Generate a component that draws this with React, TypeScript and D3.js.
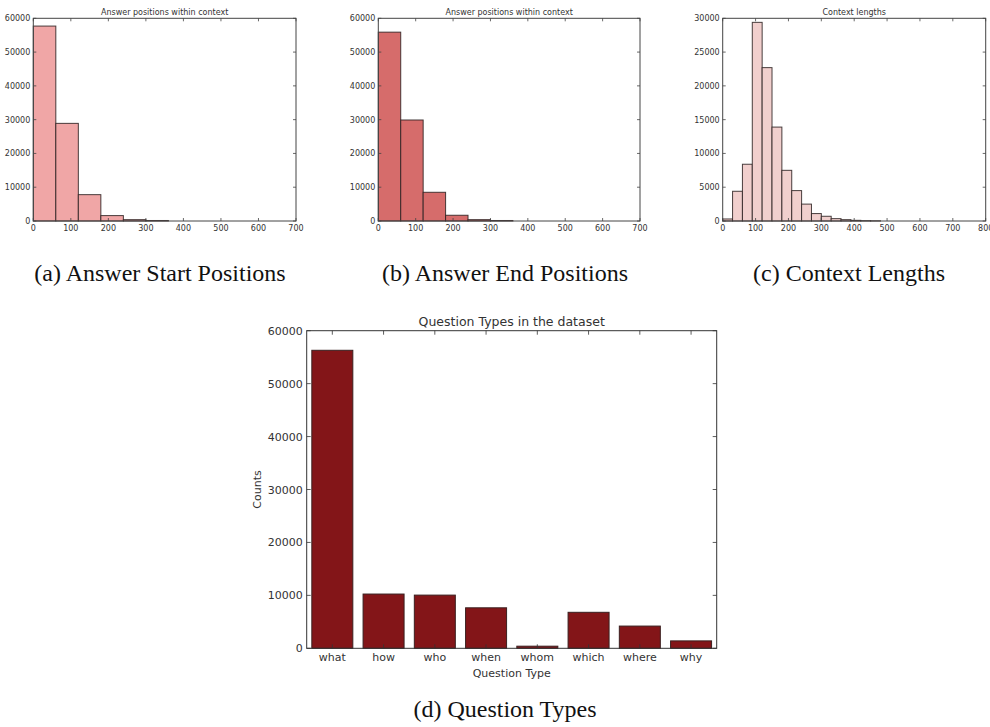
import React from "react";
import * as d3 from "d3";

// ---- Data ----
const startBinWidth = 60;
const startCounts = [57700, 28900, 7800, 1600, 400, 150];
const endBinWidth = 60;
const endCounts = [55900, 29900, 8500, 1700, 400, 150];
const contextBinWidth = 30;
const contextCounts = [300, 4400, 8400, 29400, 22700, 13900, 7500, 4500, 2500, 1100, 700, 350, 200, 100, 50, 30];

const posTicksX = [0, 100, 200, 300, 400, 500, 600, 700];
const posTicksY = [0, 10000, 20000, 30000, 40000, 50000, 60000];
const ctxTicksX = [0, 100, 200, 300, 400, 500, 600, 700, 800];
const ctxTicksY = [0, 5000, 10000, 15000, 20000, 25000, 30000];

const qTypes = ["what", "how", "who", "when", "whom", "which", "where", "why"];
const qCounts = [56300, 10250, 10050, 7650, 400, 6800, 4200, 1400];
const qTicksY = [0, 10000, 20000, 30000, 40000, 50000, 60000];

const captions = ["(a) Answer Start Positions", "(b) Answer End Positions", "(c) Context Lengths", "(d) Question Types"];

const SANS = "'DejaVu Sans', sans-serif";
const SERIF = "'Liberation Serif', 'Times New Roman', serif";

type HistProps = {
  left: number; right: number; top: number; bottom: number;
  counts: number[]; binWidth: number; xMax: number; yMax: number;
  xTicks: number[]; yTicks: number[]; title: string; fill: string;
};

function Hist(p: HistProps) {
  const x = d3.scaleLinear().domain([0, p.xMax]).range([p.left, p.right]);
  const y = d3.scaleLinear().domain([0, p.yMax]).range([p.bottom, p.top]);
  const tl = 3;
  return (
    <g>
      {p.counts.map((c, i) => (
        <rect key={i} x={x(i * p.binWidth)} y={y(c)} width={x((i + 1) * p.binWidth) - x(i * p.binWidth)}
          height={p.bottom - y(c)} fill={p.fill} stroke="#2a2020" strokeOpacity={0.85} strokeWidth={1} />
      ))}
      <rect x={p.left} y={p.top} width={p.right - p.left} height={p.bottom - p.top} fill="none" stroke="#444" strokeWidth={1} />
      {p.xTicks.map((t) => (
        <g key={"x" + t}>
          <line x1={x(t)} x2={x(t)} y1={p.bottom} y2={p.bottom - tl} stroke="#444" strokeWidth={0.8} />
          <line x1={x(t)} x2={x(t)} y1={p.top} y2={p.top + tl} stroke="#444" strokeWidth={0.8} />
          <text x={x(t)} y={p.bottom + 10} fontSize={8} textAnchor="middle" fontFamily={SANS} fill="#333">{t}</text>
        </g>
      ))}
      {p.yTicks.map((t) => (
        <g key={"y" + t}>
          <line x1={p.left} x2={p.left + tl} y1={y(t)} y2={y(t)} stroke="#444" strokeWidth={0.8} />
          <line x1={p.right} x2={p.right - tl} y1={y(t)} y2={y(t)} stroke="#444" strokeWidth={0.8} />
          <text x={p.left - 3} y={y(t) + 3} fontSize={8} textAnchor="end" fontFamily={SANS} fill="#333">{t}</text>
        </g>
      ))}
      <text x={(p.left + p.right) / 2} y={p.top - 3} fontSize={8} textAnchor="middle" fontFamily={SANS} fill="#333">{p.title}</text>
    </g>
  );
}

function QuestionBars() {
  const left = 306.7, right = 716.7, top = 330.7, bottom = 648.3;
  const x = d3.scaleBand<string>().domain(qTypes).range([left, right]).paddingInner(0.2).paddingOuter(0.1);
  const y = d3.scaleLinear().domain([0, 60000]).range([bottom, top]);
  const tl = 4;
  return (
    <g>
      {qTypes.map((q, i) => (
        <rect key={q} x={x(q)!} y={y(qCounts[i])} width={x.bandwidth()} height={bottom - y(qCounts[i])}
          fill="#831518" stroke="#3a2020" strokeWidth={1} />
      ))}
      <rect x={left} y={top} width={right - left} height={bottom - top} fill="none" stroke="#333" strokeWidth={1} />
      {qTypes.map((q) => {
        const cx = x(q)! + x.bandwidth() / 2;
        return (
          <g key={"t" + q}>
            <line x1={cx} x2={cx} y1={top} y2={top + tl} stroke="#333" strokeWidth={0.8} />
            <line x1={cx} x2={cx} y1={bottom} y2={bottom - tl} stroke="#333" strokeWidth={0.8} />
            <text x={cx} y={bottom + 13} fontSize={11} textAnchor="middle" fontFamily={SANS} fill="#333">{q}</text>
          </g>
        );
      })}
      {qTicksY.map((t) => (
        <g key={"y" + t}>
          <line x1={left} x2={left + tl} y1={y(t)} y2={y(t)} stroke="#333" strokeWidth={0.8} />
          <line x1={right} x2={right - tl} y1={y(t)} y2={y(t)} stroke="#333" strokeWidth={0.8} />
          <text x={left - 4} y={y(t) + 4} fontSize={11} textAnchor="end" fontFamily={SANS} fill="#333">{t}</text>
        </g>
      ))}
      <text x={(left + right) / 2} y={top - 5} fontSize={12.5} textAnchor="middle" fontFamily={SANS} fill="#333">Question Types in the dataset</text>
      <text x={(left + right) / 2} y={bottom + 29} fontSize={11} textAnchor="middle" fontFamily={SANS} fill="#333">Question Type</text>
      <text transform={`translate(261,${(top + bottom) / 2}) rotate(-90)`} fontSize={11} textAnchor="middle" fontFamily={SANS} fill="#333">Counts</text>
    </g>
  );
}

export default function App() {
  return (
    <svg width={990} height={727} style={{ position: "absolute", left: 0, top: 0, background: "#fff" }}>
      <rect width={990} height={727} fill="#fff" />
      <Hist left={33.3} right={296} top={18.3} bottom={221} counts={startCounts} binWidth={startBinWidth}
        xMax={700} yMax={60000} xTicks={posTicksX} yTicks={posTicksY} title="Answer positions within context" fill="#f0a6a6" />
      <Hist left={378.3} right={640} top={18.3} bottom={221} counts={endCounts} binWidth={endBinWidth}
        xMax={700} yMax={60000} xTicks={posTicksX} yTicks={posTicksY} title="Answer positions within context" fill="#d66c6b" />
      <Hist left={722.7} right={985.7} top={18.3} bottom={221} counts={contextCounts} binWidth={contextBinWidth}
        xMax={800} yMax={30000} xTicks={ctxTicksX} yTicks={ctxTicksY} title="Context lengths" fill="#f1cfcd" />
      <QuestionBars />
      <text x={160} y={281} fontSize={24} textAnchor="middle" fontFamily={SERIF} fill="#111">{captions[0]}</text>
      <text x={505} y={281} fontSize={24} textAnchor="middle" fontFamily={SERIF} fill="#111">{captions[1]}</text>
      <text x={849} y={281} fontSize={24} textAnchor="middle" fontFamily={SERIF} fill="#111">{captions[2]}</text>
      <text x={505} y={717} fontSize={24} textAnchor="middle" fontFamily={SERIF} fill="#111">{captions[3]}</text>
    </svg>
  );
}
